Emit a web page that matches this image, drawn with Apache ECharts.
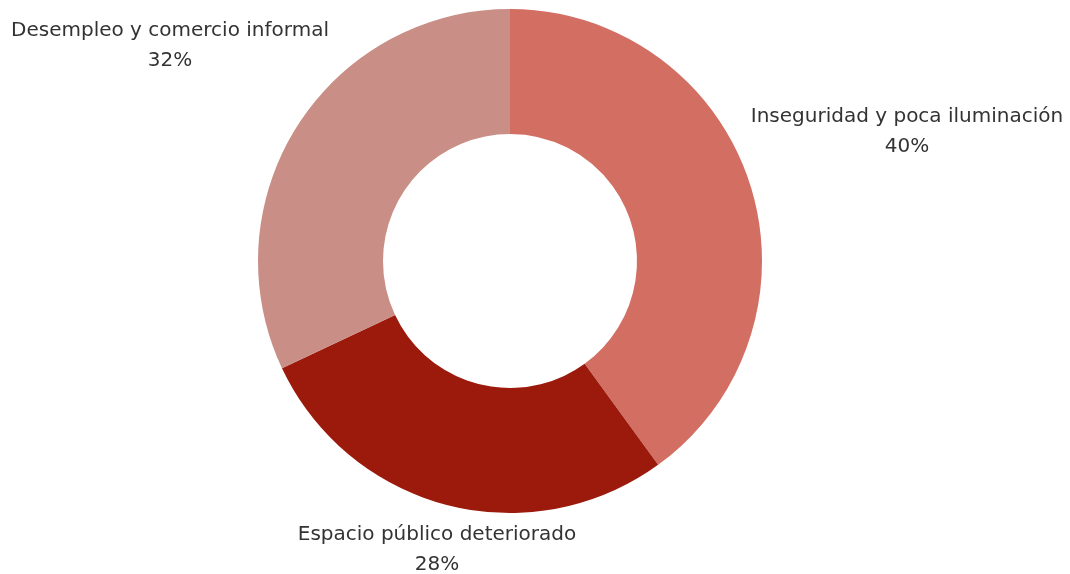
<!DOCTYPE html>
<html>
<head>
<meta charset="utf-8">
<script src="https://cdn.jsdelivr.net/npm/echarts@6/dist/echarts.min.js"></script>
<style>
html,body{margin:0;padding:0;background:#fff;}
#chart{width:1070px;height:574px;}
</style>
</head>
<body>
<div id="chart"></div>
<script>
const categories = ['Inseguridad y poca iluminación', 'Espacio público deteriorado', 'Desempleo y comercio informal'];
const values = [40, 28, 32];
const colors = ['#D36E63', '#9B1A0C', '#C98E85'];

// label anchor points (layout only)
const labelPos = [[907, 132], [437, 550], [170, 46]];

const chart = echarts.init(document.getElementById('chart'));
chart.setOption({
  animation: false,
  series: [{
    type: 'pie',
    center: [510, 261],
    radius: [127, 252],
    startAngle: 90,
    clockwise: true,
    data: categories.map((c, i) => ({ name: c, value: values[i], itemStyle: { color: colors[i] } })),
    itemStyle: { borderWidth: 0 },
    label: {
      show: true,
      position: 'outside',
      formatter: p => p.name + '\n' + p.value + '%',
      fontFamily: 'DejaVu Sans',
      fontSize: 20,
      lineHeight: 30,
      color: '#333333',
      align: 'center',
      overflow: 'none'
    },
    labelLine: { show: false },
    labelLayout: function (params) {
      const p = labelPos[params.dataIndex];
      return { x: p[0], y: p[1], align: 'center', verticalAlign: 'middle' };
    },
    emphasis: { disabled: true }
  }]
});
</script>
</body>
</html>
